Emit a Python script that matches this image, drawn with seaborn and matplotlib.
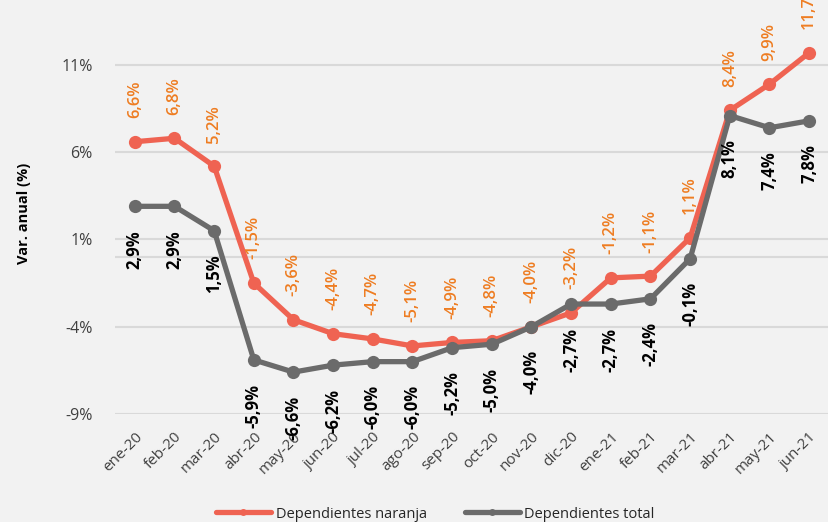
import matplotlib
matplotlib.use("Agg")
import matplotlib.pyplot as plt
import seaborn as sns
import pandas as pd
import numpy as np

months = ["ene-20", "feb-20", "mar-20", "abr-20", "may-20", "jun-20", "jul-20", "ago-20",
          "sep-20", "oct-20", "nov-20", "dic-20", "ene-21", "feb-21", "mar-21", "abr-21",
          "may-21", "jun-21"]
naranja = [6.6, 6.8, 5.2, -1.5, -3.6, -4.4, -4.7, -5.1, -4.9, -4.8, -4.0, -3.2, -1.2, -1.1,
           1.1, 8.4, 9.9, 11.7]
total = [2.9, 2.9, 1.5, -5.9, -6.6, -6.2, -6.0, -6.0, -5.2, -5.0, -4.0, -2.7, -2.7, -2.4,
         -0.1, 8.1, 7.4, 7.8]
series_names = ["Dependientes naranja", "Dependientes total"]
yticks = [-9, -4, 1, 6, 11]

sns.set_theme(style="white")
plt.rcParams['font.family'] = ['Open Sans', 'DejaVu Sans']

bg = "#f2f2f2"
c_or = "#EF6352"
c_gr = "#6b6b6b"
c_or_txt = "#EE7D22"

df = pd.DataFrame({
    "idx": list(range(len(months))) * 2,
    "val": naranja + total,
    "serie": [series_names[0]] * len(months) + [series_names[1]] * len(months),
})

fig = plt.figure(figsize=(8.29, 5.22), dpi=100, facecolor=bg)
ax = fig.add_axes([115/829, 1 - 414/522, 1 - 115/829, (414 - 12.6)/522])
ax.set_facecolor(bg)

for y in yticks + [0]:
    ax.axhline(y, color="#d9d9d9", lw=1.5, zorder=0)

sns.lineplot(data=df, x="idx", y="val", hue="serie", palette=[c_or, c_gr],
             marker="o", markersize=9.5, markeredgewidth=0, linewidth=3.8, ax=ax,
             legend=True)

ax.set_xlim(-0.5, len(months) - 0.5)
ax.set_ylim(-9, 14)
ax.set_xticks(range(len(months)))
ax.set_xticklabels(months, rotation=45, ha="right", rotation_mode="anchor",
                   fontsize=11, color="#404040")
ax.set_yticks(yticks)
ax.set_yticklabels([f"{v}%" for v in yticks], fontsize=11.5, color="#404040")
ax.tick_params(axis="x", length=0, pad=11)
ax.tick_params(axis="y", length=0, pad=16)
for s in ax.spines.values():
    s.set_visible(False)
ax.set_xlabel("")
ax.set_ylabel("Var. anual (%)", fontsize=10.5, fontweight="bold", color="black", labelpad=22)

def fmt(v):
    return f"{v:.1f}%".replace(".", ",")

for i, v in enumerate(naranja):
    ax.annotate(fmt(v), (i, v), xytext=(0, 17), textcoords="offset points",
                rotation=90, ha="center", va="bottom", fontsize=12,
                color=c_or_txt, fontweight="semibold", annotation_clip=False)
for i, v in enumerate(total):
    ax.annotate(fmt(v), (i, v), xytext=(0, -17), textcoords="offset points",
                rotation=90, ha="center", va="top", fontsize=12,
                color="black", fontweight="bold", annotation_clip=False)

leg = ax.legend(loc="center", bbox_to_anchor=(0.525, 8/522), bbox_transform=fig.transFigure,
                ncol=2, frameon=False, fontsize=10.5, handlelength=3.8, columnspacing=2.6,
                handletextpad=0.3)
for h in leg.get_lines():
    h.set_markersize(5)

fig.savefig("out.png", dpi=100, facecolor=bg)
